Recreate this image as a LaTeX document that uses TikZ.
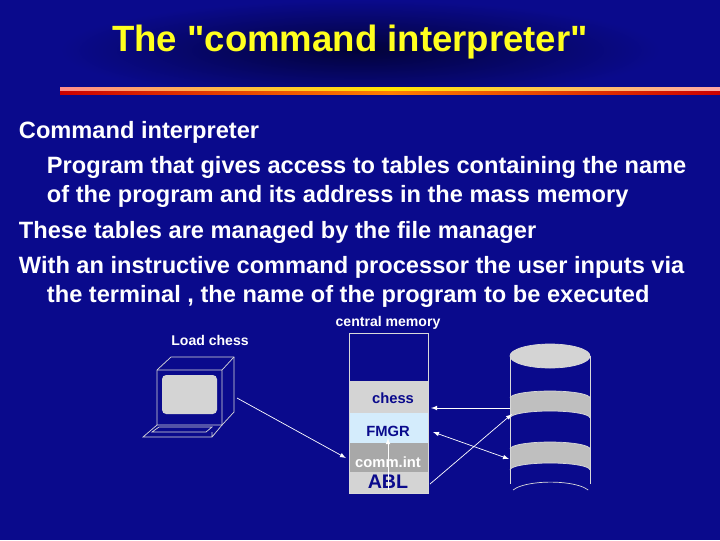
\documentclass[tikz,border=0pt]{standalone}
\usepackage{fontspec}
\setmainfont{Liberation Sans}
\newfontfamily\titlefont{Liberation Sans}
\usetikzlibrary{arrows}
\definecolor{slide}{HTML}{0A0A8C}
\definecolor{deep}{HTML}{02023A}
\definecolor{title}{HTML}{FFFF1E}
\definecolor{memlight}{HTML}{D4D4D4}
\definecolor{memblue}{HTML}{D4ECFC}
\definecolor{memgray}{HTML}{A8A8A8}
\definecolor{ink}{HTML}{0A0A8C}
\tikzset{
  body/.style={anchor=west, text=white, font=\bfseries\fontsize{16.8}{18}\selectfont},
  cell/.style={draw=white!85!black, line width=.5pt},
  link/.style={draw=white, line width=.5pt, -latex}
}
\begin{document}
\begin{tikzpicture}[x=0.025cm, y=-0.025cm]
  \useasboundingbox (0,0) rectangle (720,540);
  \fill [slide] (0,0) rectangle (720,540);
  \fill [inner color=deep, outer color=slide] (60,0) rectangle (660,100);
  % title and rule
  \node (head) [text=title, font=\titlefont\bfseries\fontsize{26}{28}\selectfont] at (350,42) {The "command interpreter"};
  \shade [left color=red!45!white, right color=red!35!white, middle color=yellow!80!orange] (60,87) rectangle (720,91);
  \shade [left color=red!80!black, right color=red!80!black, middle color=orange] (60,91) rectangle (720,94);
  % bullet text
  \node (p1) [body] at (14,132) {Command interpreter};
  \node (p2) [body] at (42,167) {Program that gives access to tables containing the name};
  \node (p3) [body] at (42,196) {of the program and its address in the mass memory};
  \node (p4) [body] at (14,232) {These tables are managed by the file manager};
  \node (p5) [body] at (14,267) {With an instructive command processor the user inputs via};
  \node (p6) [body] at (42,296) {the terminal , the name of the program to be executed};
  % central memory
  \node (cm) [text=white, font=\bfseries\fontsize{10}{12}\selectfont] at (388,323) {central memory};
  \draw [cell] (349,333) rectangle (428,381);
  \fill [memlight] (349,381) rectangle (428,413);
  \fill [memblue] (349,413) rectangle (428,443);
  \fill [memgray] (349,443) rectangle (428,472);
  \fill [memlight] (349,472) rectangle (428,493);
  \draw [cell] (349,333) rectangle (428,493);
  \node (chess) [text=ink, font=\bfseries\fontsize{10.5}{12}\selectfont] at (393,398) {chess};
  \node (fmgr) [text=ink, font=\bfseries\fontsize{10.5}{12}\selectfont] at (388,431) {FMGR};
  \node (comm) [text=white, font=\bfseries\fontsize{10.5}{12}\selectfont] at (388,462) {comm.int};
  \node (abl) [text=ink, font=\bfseries\fontsize{14}{14}\selectfont] at (388,482) {ABL};
  \coordinate (up0) at (388,490);
  \coordinate (up1) at (388,438);
  \draw [link] (up0) -- (up1);
  % terminal
  \node (load) [text=white, font=\bfseries\fontsize{10}{12}\selectfont] at (210,340) {Load chess};
  \draw [cell] (157,370) -- (171,357) -- (234,357) -- (234,412) -- (222,425) -- (157,425) -- cycle;
  \draw [cell] (157,370) -- (222,370) -- (222,425) (222,370) -- (234,357);
  \fill [memlight, rounded corners=3pt] (162,375) rectangle (217,414);
  \draw [cell] (157,425) -- (143,437) -- (212,437) -- (222,425) (212,437) -- (212,432);
  \draw [cell] (152,432) -- (159,427) -- (212,427) -- (206,432) -- cycle;
  \coordinate (tty) at (237,398);
  % disk
  \fill [memlight!90!black] (510,398) arc (180:360:40 and 7) -- (590,418) arc (360:180:40 and 7) -- cycle;
  \fill [memlight!90!black] (510,449) arc (180:360:40 and 7) -- (590,470) arc (360:180:40 and 7) -- cycle;
  \draw [cell] (510,356) -- (510,484) (590,356) -- (590,484);
  \draw [cell, fill=memlight] (550,356) ellipse (40 and 12);
  \draw [cell] (510,398) arc (180:360:40 and 7) (510,418) arc (180:360:40 and 7);
  \draw [cell] (510,449) arc (180:360:40 and 7) (510,470) arc (180:360:40 and 7);
  \draw [cell] (513,490) arc (200:340:40 and 12);
  \coordinate (d1) at (510,408);
  \coordinate (d2) at (509,459);
  \coordinate (d3) at (512,414);
  \coordinate (m1) at (431,408);
  \coordinate (m2) at (433,432);
  \coordinate (m3) at (430,484);
  \coordinate (m4) at (346,458);
  \draw [link] (tty) -- (m4);
  \draw [link] (d1) -- (m1);
  \draw [link, latex-latex] (m2) -- (d2);
  \draw [link] (m3) -- (d3);
\end{tikzpicture}
\end{document}
